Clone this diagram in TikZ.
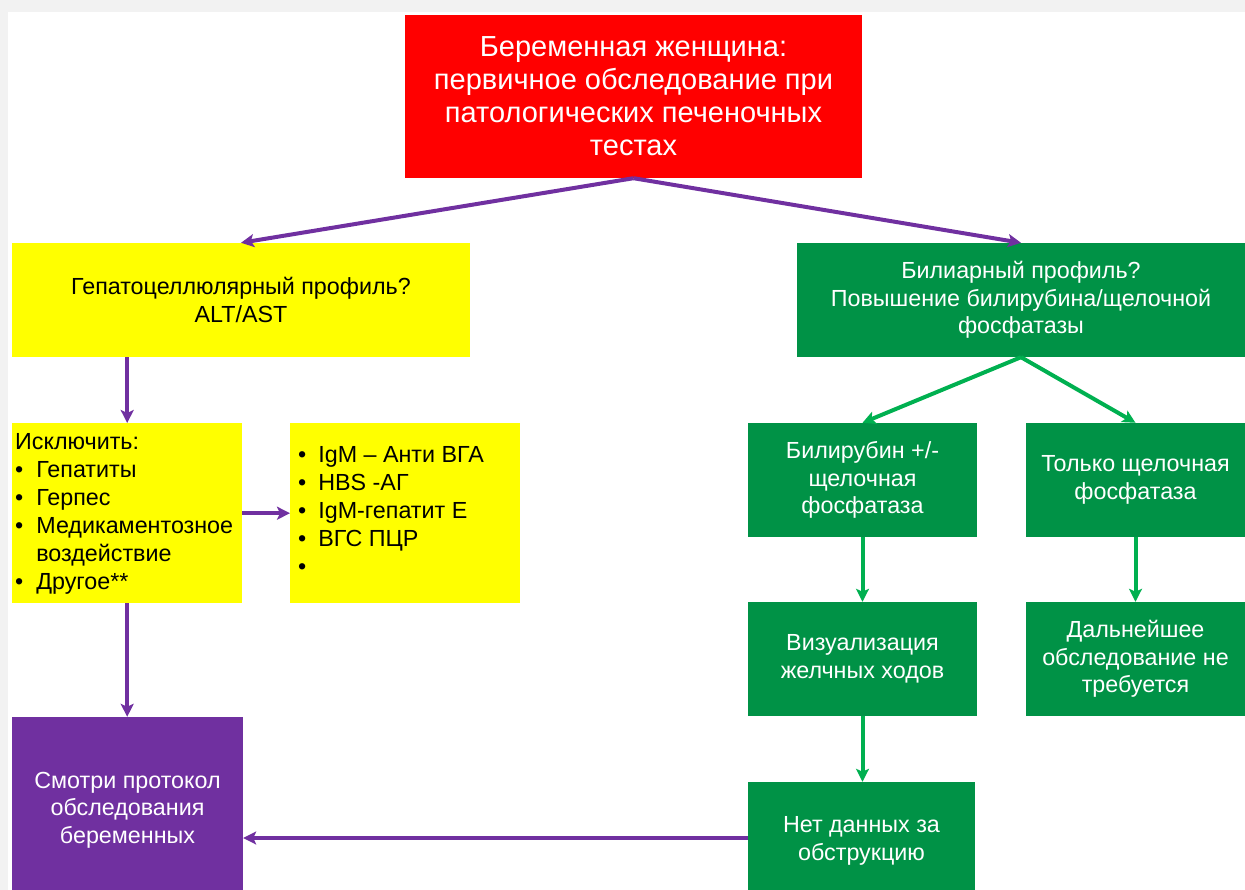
\documentclass[tikz,border=0pt]{standalone}
\usepackage{fontspec}
\setmainfont{Liberation Sans}
\usetikzlibrary{arrows.meta}

\definecolor{boxred}{RGB}{255,0,0}
\definecolor{boxyellow}{RGB}{255,255,0}
\definecolor{boxgreen}{RGB}{0,146,70}
\definecolor{boxpurple}{RGB}{112,48,160}
\definecolor{linegreen}{RGB}{0,176,80}

\begin{document}
\begin{tikzpicture}[
  x=1pt,y=-1pt,
  >={Stealth[length=13pt,width=13pt,inset=3pt]},
  box/.style={inner sep=4pt,align=center,font=\fontsize{23.3}{27.5}\selectfont},
  redbox/.style={box,fill=boxred,text=white,font=\fontsize{29}{33}\selectfont},
  yelbox/.style={box,fill=boxyellow,text=black},
  grnbox/.style={box,fill=boxgreen,text=white},
  purbox/.style={box,fill=boxpurple,text=white},
  listtext/.style={anchor=north west,inner sep=0pt,align=left,
    font=\fontsize{23.3}{28}\selectfont},
  purarrow/.style={->,boxpurple,line width=4pt},
  grnarrow/.style={->,linegreen,line width=4pt},
]
  \useasboundingbox (0,0) rectangle (1245,890);
  \clip (0,0) rectangle (1245,890);
  % screenshot edge
  \fill[black!5] (0,0) rectangle (1245,12);
  \fill[black!5] (0,0) rectangle (8,890);

  % top
  \node[redbox,minimum width=457pt,minimum height=163pt] (woman) at (633.5,96.5)
    {Беременная женщина:\\первичное обследование при\\патологических печеночных\\тестах};

  % hepatocellular branch
  \node[yelbox,minimum width=458pt,minimum height=114pt] (hepat) at (241,300)
    {Гепатоцеллюлярный профиль?\\ALT/AST};
  \node[yelbox,minimum width=230pt,minimum height=180pt,anchor=north west,
        inner sep=0pt] (exclude) at (12,423) {};
  \node[listtext] (excltext) at (15,430)
    {\begin{tabular}{@{}l@{\hspace{13pt}}l@{}}
      \multicolumn{2}{@{}l@{}}{Исключить:}\\
      \textbullet & Гепатиты\\
      \textbullet & Герпес\\
      \textbullet & Медикаментозное\\
                  & воздействие\\
      \textbullet & Другое**
    \end{tabular}};
  \node[yelbox,minimum width=230pt,minimum height=180pt,anchor=north west,
        inner sep=0pt] (tests) at (290,423) {};
  \node[listtext] (testtext) at (298,443)
    {\begin{tabular}{@{}l@{\hspace{12pt}}l@{}}
      \textbullet & IgM – Анти ВГА\\
      \textbullet & HBS -АГ\\
      \textbullet & IgM-гепатит Е\\
      \textbullet & ВГС ПЦР\\
      \textbullet &
    \end{tabular}};
  \node[purbox,minimum width=231pt,minimum height=186pt] (protocol) at (127.5,810)
    {Смотри протокол\\обследования\\беременных};

  % biliary branch
  \node[grnbox,minimum width=448pt,minimum height=114pt] (biliary) at (1021,300)
    {Билиарный профиль?\\Повышение билирубина/щелочной\\фосфатазы};
  \node[grnbox,minimum width=229pt,minimum height=114pt] (bilirub) at (862.5,480)
    {Билирубин +/-\\щелочная\\фосфатаза};
  \node[grnbox,minimum width=219pt,minimum height=114pt] (alkonly) at (1135.5,480)
    {Только щелочная\\фосфатаза};
  \node[grnbox,minimum width=229pt,minimum height=114pt] (imaging) at (862.5,659)
    {Визуализация\\желчных ходов};
  \node[grnbox,minimum width=219pt,minimum height=114pt] (nofurther) at (1135.5,659)
    {Дальнейшее\\обследование не\\требуется};
  \node[grnbox,minimum width=227pt,minimum height=118pt] (noobstr) at (861.5,841)
    {Нет данных за\\обструкцию};

  % connectors
  \draw[purarrow] (woman.south) -- (hepat.north);
  \draw[purarrow] (woman.south) -- (biliary.north);
  \draw[purarrow] (hepat.south -| exclude.north) -- (exclude.north);
  \draw[purarrow] (exclude.east) -- (tests.west);
  \draw[purarrow] (exclude.south) -- (exclude.south |- protocol.north);
  \draw[purarrow] (noobstr.west |- 0,838) -- (protocol.east |- 0,838);
  \draw[grnarrow] (biliary.south) -- (bilirub.north);
  \draw[grnarrow] (biliary.south) -- (alkonly.north);
  \draw[grnarrow] (bilirub.south) -- (imaging.north);
  \draw[grnarrow] (alkonly.south) -- (nofurther.north);
  \draw[grnarrow] (imaging.south) -- (imaging.south |- noobstr.north);
\end{tikzpicture}
\end{document}
